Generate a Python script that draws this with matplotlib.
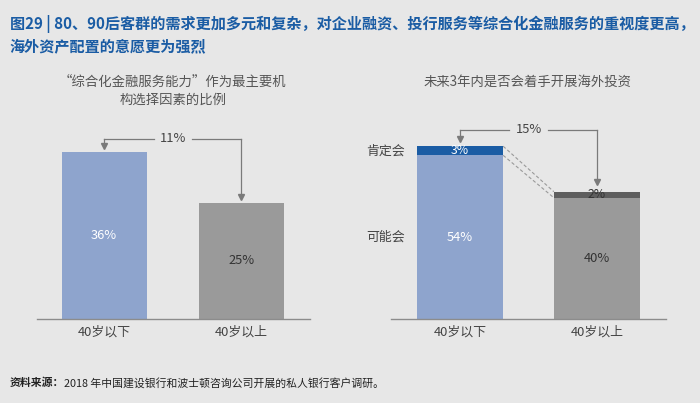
import matplotlib
matplotlib.use("Agg")
import matplotlib.pyplot as plt

plt.rcParams['font.family'] = ['Noto Sans CJK SC', 'DejaVu Sans']

# --- data ---
groups = ['40岁以下', '40岁以上']
factor_share = [36, 25]          # 综合化金融服务能力 share
factor_gap = '11%'
possible = [54, 40]              # 可能会
definite = [3, 2]                # 肯定会
invest_gap = '15%'

title_text = ('图29 | 80、90后客群的需求更加多元和复杂，对企业融资、投行服务等综合化金融服务的重视度更高，\n'
              '海外资产配置的意愿更为强烈')
left_title = '“综合化金融服务能力”作为最主要机\n构选择因素的比例'
right_title = '未来3年内是否会着手开展海外投资'

BG = '#e7e7e7'
LIGHT_BLUE = '#8ea4cd'
GREY = '#9a9a9a'
DARK_BLUE = '#1a5ca4'
DARK_GREY = '#5e5e5e'
TEXT = '#444444'
ARROW = '#7a7a7a'

fig = plt.figure(figsize=(7.0, 4.03), dpi=100, facecolor=BG)

fig.text(0.014, 0.962, title_text, color='#1a5ca4', fontsize=10.9,
         fontweight='bold', va='top', ha='left', linespacing=1.35)
fig.text(0.247, 0.815, left_title, color='#555555', fontsize=9.6,
         ha='center', va='top', linespacing=1.4)
fig.text(0.753, 0.815, right_title, color='#555555', fontsize=9.6,
         ha='center', va='top')

src = fig.text(0.014, 0.05, '资料来源：', fontsize=7.8, fontweight='bold',
               color='#222222', va='center', ha='left')
fig.canvas.draw()
bb = src.get_window_extent()
fig.text(bb.x1 / fig.bbox.width, 0.05,
         '2018 年中国建设银行和波士顿咨询公司开展的私人银行客户调研。',
         fontsize=7.8, color='#222222', va='center', ha='left')


def style_axis(ax):
    ax.set_facecolor(BG)
    for s in ['top', 'right', 'left']:
        ax.spines[s].set_visible(False)
    ax.spines['bottom'].set_color('#8c8c8c')
    ax.spines['bottom'].set_linewidth(1.0)
    ax.set_yticks([])
    ax.set_xticks([0, 1])
    ax.set_xticklabels(groups, fontsize=9.3, color=TEXT)
    ax.tick_params(axis='x', length=0, pad=5)


def gap_arrow(ax, y_line, tips, label):
    x0, x1 = 0, 1
    ax.plot([x0, x0], [y_line, tips[0]], color=ARROW, lw=0.9)
    ax.plot([x1, x1], [y_line, tips[1]], color=ARROW, lw=0.9)
    ax.plot([x0, 0.36], [y_line, y_line], color=ARROW, lw=0.9)
    ax.plot([0.64, x1], [y_line, y_line], color=ARROW, lw=0.9)
    for x, t in zip([x0, x1], tips):
        ax.plot(x, t, marker='v', color=ARROW, markersize=4, lw=0)
    ax.text(0.5, y_line, label, ha='center', va='center', fontsize=9.3, color=TEXT)


# --- left panel ---
axl = fig.add_axes([37 / 700, 1 - 319 / 403, 273 / 700, 194 / 403])
style_axis(axl)
w1 = 0.62
axl.bar([0, 1], factor_share, width=w1, color=[LIGHT_BLUE, GREY])
axl.set_xlim(-0.49, 1.5)
axl.set_ylim(0, 41.8)
for i, v in enumerate(factor_share):
    axl.text(i, v / 2, f'{v}%', ha='center', va='center', fontsize=9.3,
             color='white' if i == 0 else '#333333')
gap_arrow(axl, 38.8, [factor_share[0] + 1.2, factor_share[1] + 1.2], factor_gap)

# --- right panel ---
axr = fig.add_axes([391 / 700, 1 - 319 / 403, 275 / 700, 194 / 403])
style_axis(axr)
w2 = 0.63
axr.bar([0, 1], possible, width=w2, color=[LIGHT_BLUE, GREY])
axr.bar([0, 1], definite, width=w2, bottom=possible, color=[DARK_BLUE, DARK_GREY])
axr.set_xlim(-0.504, 1.504)
axr.set_ylim(0, 64)
for i in range(2):
    axr.text(i, possible[i] / 2, f'{possible[i]}%', ha='center', va='center',
             fontsize=9.3, color='white' if i == 0 else '#333333')
    axr.text(i, possible[i] + definite[i] / 2, f'{definite[i]}%', ha='center',
             va='center', fontsize=8.8, color='white' if i == 0 else '#333333')

# dashed connectors between the stacks
tops = [p + d for p, d in zip(possible, definite)]
axr.plot([w2 / 2, 1 - w2 / 2], [tops[0], tops[1]], ls=(0, (3, 2)), color='#9a9a9a', lw=0.8)
axr.plot([w2 / 2, 1 - w2 / 2], [possible[0], possible[1]], ls=(0, (3, 2)), color='#9a9a9a', lw=0.8)

gap_arrow(axr, 62.4, [tops[0] + 2.4, tops[1] + 3.2], invest_gap)

axr.text(-0.547, possible[0] + definite[0] / 2, '肯定会', ha='center', va='center',
         fontsize=9.3, color=TEXT, clip_on=False)
axr.text(-0.547, possible[0] / 2, '可能会', ha='center', va='center',
         fontsize=9.3, color=TEXT, clip_on=False)

fig.savefig('out.png', dpi=100, facecolor=BG)
